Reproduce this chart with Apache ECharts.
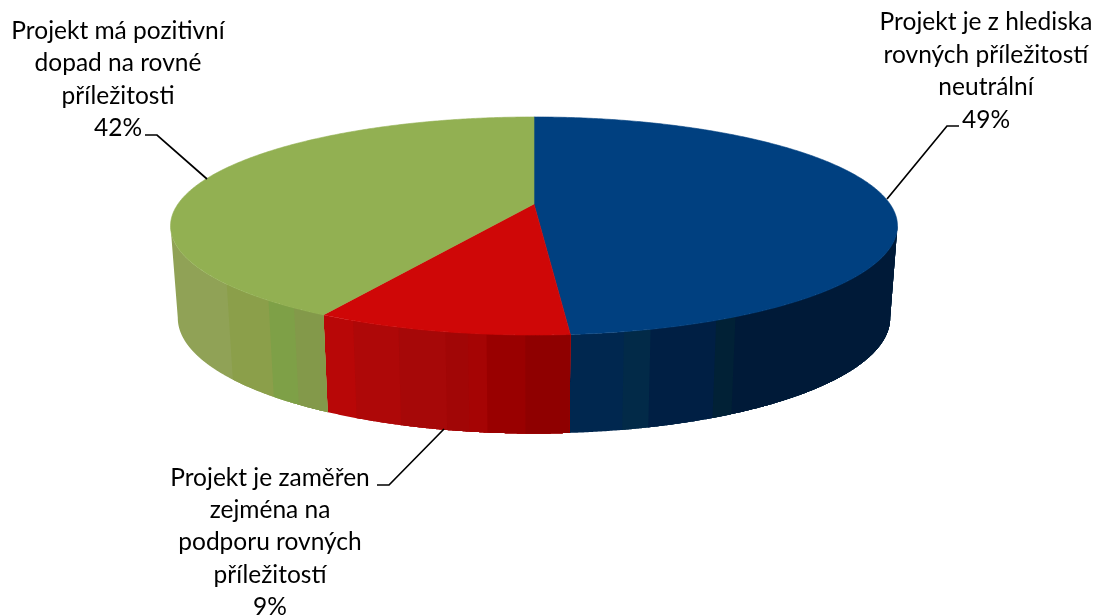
<!DOCTYPE html>
<html>
<head>
<meta charset="utf-8">
<title>Rovné příležitosti</title>
<style>
  html, body { margin: 0; padding: 0; background: #fff; }
  #chart { width: 1094px; height: 615px; }
</style>
<script src="https://cdn.jsdelivr.net/npm/echarts@6/dist/echarts.min.js"></script>
</head>
<body>
<div id="chart"></div>
<script>
// data
const categories = [
  'Projekt je z hlediska\nrovných příležitostí\nneutrální',
  'Projekt je zaměřen\nzejména na\npodporu rovných\npříležitostí',
  'Projekt má pozitivní\ndopad na rovné\npříležitosti'
];
const shareValues = [48.7, 9.4, 41.9];

// styles
const topColors = ['#004080', '#cf0707', '#92b052'];
// wall shading, each band starts at px x on the rim, going left to right
const wallBands = [
  [[560, '#00274f'], [623, '#022a48'], [650, '#001f44'], [716, '#012136'], [735, '#001a38']],
  [[320, '#b80707'], [353, '#ae0808'], [398, '#a60808'], [445, '#a10606'], [467, '#a50404'], [485, '#990000'], [525, '#8f0000']],
  [[160, '#90a256'], [226, '#8b9f4a'], [268, '#7ea047'], [293, '#83994a']]
];
const labelBoxes = [
  { x: 986, y: 71, line: [[959, 126], [947, 126], [887, 199]] },
  { x: 270, y: 542.5, line: [[377, 485], [389, 485], [444, 429]] },
  { x: 118, y: 79.5, line: [[145, 135], [157, 135], [207, 179]] }
];

// pie projection: circle seen in perspective
const center = [534, 204];
const persp = 0.2018, scaleY = 104.6, scaleX = 356;
const wallShift = 90.6, wallScaleX = 0.98, wallScaleY = 1.06;
const sideAngle = 101.5;

function topPoint(deg) {
  const r = deg * Math.PI / 180;
  const u = Math.sin(r), v = -Math.cos(r), w = 1 - persp * v;
  return [center[0] + scaleX * u / w, center[1] + scaleY * v / w];
}
function bottomPoint(deg) {
  const r = deg * Math.PI / 180;
  const u = Math.sin(r), v = -Math.cos(r), w = 1 - persp * v;
  return [center[0] + wallScaleX * scaleX * u / w, center[1] + wallShift + wallScaleY * scaleY * v / w];
}

const total = shareValues.reduce((a, b) => a + b, 0);
const startAngles = shareValues.map((_, i) =>
  shareValues.slice(0, i).reduce((a, b) => a + b, 0) / total * 360);

function wallShapes(from, to, bands) {
  const a = Math.max(from, sideAngle), b = Math.min(to, 360 - sideAngle);
  if (b <= a) return [];
  // later bands paint over earlier ones so no gaps show between them
  const out = [];
  bands.forEach(([startX, color]) => {
    const angles = [];
    for (let d = a; d < b; d += 0.2) {
      if (topPoint(d)[0] >= startX) angles.push(d);
    }
    if (topPoint(b)[0] >= startX) angles.push(b);
    if (angles.length > 1) {
      const pts = angles.map(topPoint).concat(angles.slice().reverse().map(bottomPoint));
      out.push({ type: 'polygon', shape: { points: pts }, style: { fill: color } });
    }
  });
  return out;
}

function renderSlice(params, api) {
  const i = params.dataIndex;
  const value = api.value(0);
  const from = startAngles[i];
  const to = from + value / total * 360;

  const top = [center];
  for (let d = from; d < to; d += 0.5) top.push(topPoint(d));
  top.push(topPoint(to));

  const box = labelBoxes[i];
  return {
    type: 'group',
    children: [
      ...wallShapes(from, to, wallBands[i]),
      {
        type: 'polygon',
        shape: { points: top },
        style: { fill: topColors[i], stroke: topColors[i], lineWidth: 0.6 }
      },
      {
        type: 'polyline',
        shape: { points: box.line },
        style: { fill: null, stroke: '#000', lineWidth: 1.7 }
      },
      {
        type: 'text',
        x: box.x,
        y: box.y,
        style: {
          text: categories[i] + '\n' + Math.round(value) + '%',
          fill: '#000',
          font: '24.5px Lato, "Open Sans", sans-serif',
          lineHeight: 32.4,
          align: 'center',
          verticalAlign: 'middle'
        }
      }
    ]
  };
}

const chart = echarts.init(document.getElementById('chart'), null, { renderer: 'canvas' });
chart.setOption({
  backgroundColor: '#fff',
  animation: false,
  series: [{
    type: 'custom',
    coordinateSystem: 'none',
    silent: true,
    data: shareValues.map((v, i) => ({ name: categories[i], value: [v] })),
    renderItem: renderSlice
  }]
});
</script>
</body>
</html>
